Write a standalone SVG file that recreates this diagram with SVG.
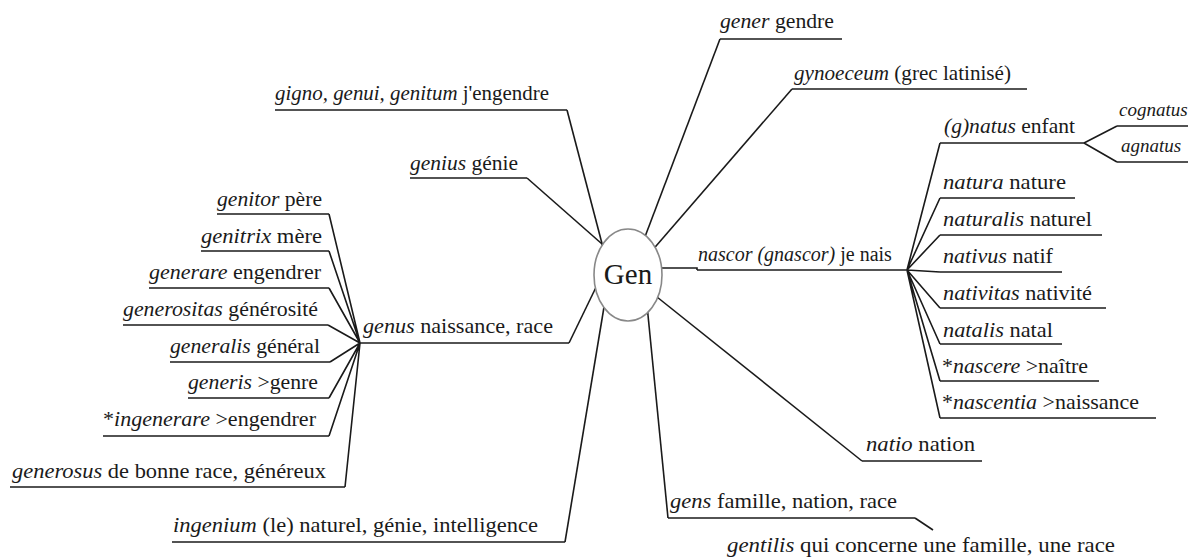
<svg xmlns="http://www.w3.org/2000/svg" width="1188" height="559" viewBox="0 0 1188 559" font-family="'Liberation Serif', 'DejaVu Serif', serif">
<style>
text{font-family:'Liberation Serif','DejaVu Serif',serif}
.t{font-size:22px;fill:#1a1a1a}
.i{font-style:italic}
.s{font-size:19px}
.g{font-size:29px}
.ln{stroke:#1a1a1a;stroke-width:1.6;fill:none}
.ul{stroke:#1a1a1a;stroke-width:1.6;fill:none}
</style>
<rect width="1188" height="559" fill="#ffffff"/>
<g id="connectors" class="ln">
<path d="M567 110 L605 255"/>
<path d="M527 178 L610 251"/>
<path d="M569 343 L600 279"/>
<path d="M565 542 L606 295"/>
<path d="M329 214 L360 343 M329 251 L360 343 M329 288 L360 343 M328 325 L360 343 M330 362 L360 343 M329 398 L360 343 M329 436 L360 343 M345 487 L360 343"/>
<path d="M720 39 L643 242"/>
<path d="M792 89 L650 253"/>
<path d="M655 268 H697 V270"/>
<path d="M907 270 L940 143 M907 270 L940 198 M907 270 L940 235 M907 270 L940 272 M907 270 L940 308 M907 270 L940 344 M907 270 L940 381 M907 270 L940 418"/>
<path d="M1084 143 L1117 126 M1084 143 L1117 162"/>
<path d="M862 461 L652 293"/>
<path d="M668 518 L647 305"/>
<path d="M915 518 L933 530"/>
</g>
<g id="n-gen">
<ellipse cx="628" cy="275" rx="34" ry="46" fill="#ffffff" stroke="#888888" stroke-width="1.6"/>
<text class="t g" x="628" y="284" text-anchor="middle">Gen</text>
</g>
<g id="n-gigno"><text class="t" x="275" y="100" textLength="274" lengthAdjust="spacingAndGlyphs"><tspan class="i">gigno, genui, genitum</tspan> j'engendre</text><path class="ul" d="M275 110 H567"/></g>
<g id="n-genius"><text class="t" x="410" y="170" textLength="108" lengthAdjust="spacingAndGlyphs"><tspan class="i">genius</tspan> génie</text><path class="ul" d="M410 178 H527"/></g>
<g id="n-genus"><text class="t" x="363" y="333" textLength="190" lengthAdjust="spacingAndGlyphs"><tspan class="i">genus</tspan> naissance, race</text><path class="ul" d="M360 343 H569"/></g>
<g id="n-genitor"><text class="t" x="217" y="206" textLength="105" lengthAdjust="spacingAndGlyphs"><tspan class="i">genitor</tspan> père</text><path class="ul" d="M217 214 H329"/></g>
<g id="n-genitrix"><text class="t" x="201" y="243" textLength="121" lengthAdjust="spacingAndGlyphs"><tspan class="i">genitrix</tspan> mère</text><path class="ul" d="M201 251 H329"/></g>
<g id="n-generare"><text class="t" x="149" y="279" textLength="172" lengthAdjust="spacingAndGlyphs"><tspan class="i">generare</tspan> engendrer</text><path class="ul" d="M149 288 H329"/></g>
<g id="n-generositas"><text class="t" x="123" y="316" textLength="195" lengthAdjust="spacingAndGlyphs"><tspan class="i">generositas</tspan> générosité</text><path class="ul" d="M123 325 H328"/></g>
<g id="n-generalis"><text class="t" x="170" y="353" textLength="150" lengthAdjust="spacingAndGlyphs"><tspan class="i">generalis</tspan> général</text><path class="ul" d="M170 362 H330"/></g>
<g id="n-generis"><text class="t" x="188" y="389" textLength="130" lengthAdjust="spacingAndGlyphs"><tspan class="i">generis</tspan> &gt;genre</text><path class="ul" d="M188 398 H329"/></g>
<g id="n-ingenerare"><text class="t" x="103" y="426" textLength="213" lengthAdjust="spacingAndGlyphs">*<tspan class="i">ingenerare</tspan> &gt;engendrer</text><path class="ul" d="M103 436 H329"/></g>
<g id="n-generosus"><text class="t" x="12" y="478" textLength="314" lengthAdjust="spacingAndGlyphs"><tspan class="i">generosus</tspan> de bonne race, généreux</text><path class="ul" d="M10 487 H345"/></g>
<g id="n-ingenium"><text class="t" x="173" y="532" textLength="365" lengthAdjust="spacingAndGlyphs"><tspan class="i">ingenium</tspan> (le) naturel, génie, intelligence</text><path class="ul" d="M172 542 H565"/></g>
<g id="n-gener"><text class="t" x="720" y="28" textLength="114" lengthAdjust="spacingAndGlyphs"><tspan class="i">gener</tspan> gendre</text><path class="ul" d="M720 39 H842"/></g>
<g id="n-gynoeceum"><text class="t" x="794" y="80" textLength="217" lengthAdjust="spacingAndGlyphs"><tspan class="i">gynoeceum</tspan> (grec latinisé)</text><path class="ul" d="M792 89 H1027"/></g>
<g id="n-nascor"><text class="t" x="698" y="261" style="font-size:20px"><tspan class="i">nascor (gnascor)</tspan> je nais</text><path class="ul" d="M697 270 H907"/></g>
<g id="n-gnatus"><text class="t" x="944" y="133" textLength="131" lengthAdjust="spacingAndGlyphs"><tspan class="i">(g)natus</tspan> enfant</text><path class="ul" d="M940 143 H1084"/></g>
<g id="n-cognatus"><text class="t i s" x="1119" y="116">cognatus</text><path class="ul" d="M1117 126 H1188"/></g>
<g id="n-agnatus"><text class="t i s" x="1121" y="152">agnatus</text><path class="ul" d="M1117 162 H1188"/></g>
<g id="n-natura"><text class="t" x="943" y="189" textLength="123" lengthAdjust="spacingAndGlyphs"><tspan class="i">natura</tspan> nature</text><path class="ul" d="M940 198 H1075"/></g>
<g id="n-naturalis"><text class="t" x="943" y="226" textLength="149" lengthAdjust="spacingAndGlyphs"><tspan class="i">naturalis</tspan> naturel</text><path class="ul" d="M940 235 H1102"/></g>
<g id="n-nativus"><text class="t" x="943" y="263" textLength="110" lengthAdjust="spacingAndGlyphs"><tspan class="i">nativus</tspan> natif</text><path class="ul" d="M940 272 H1062"/></g>
<g id="n-nativitas"><text class="t" x="943" y="300" textLength="149" lengthAdjust="spacingAndGlyphs"><tspan class="i">nativitas</tspan> nativité</text><path class="ul" d="M940 308 H1106"/></g>
<g id="n-natalis"><text class="t" x="943" y="337" textLength="110" lengthAdjust="spacingAndGlyphs"><tspan class="i">natalis</tspan> natal</text><path class="ul" d="M940 344 H1062"/></g>
<g id="n-nascere"><text class="t" x="942" y="373" textLength="146" lengthAdjust="spacingAndGlyphs">*<tspan class="i">nascere</tspan> &gt;naître</text><path class="ul" d="M940 381 H1099"/></g>
<g id="n-nascentia"><text class="t" x="942" y="409" textLength="197" lengthAdjust="spacingAndGlyphs">*<tspan class="i">nascentia</tspan> &gt;naissance</text><path class="ul" d="M940 418 H1156"/></g>
<g id="n-natio"><text class="t" x="866" y="451" textLength="109" lengthAdjust="spacingAndGlyphs"><tspan class="i">natio</tspan> nation</text><path class="ul" d="M862 461 H982"/></g>
<g id="n-gens"><text class="t" x="670" y="508" textLength="227" lengthAdjust="spacingAndGlyphs"><tspan class="i">gens</tspan> famille, nation, race</text><path class="ul" d="M668 518 H915"/></g>
<g id="n-gentilis"><text class="t" x="727" y="552" textLength="388" lengthAdjust="spacingAndGlyphs"><tspan class="i">gentilis</tspan> qui concerne une famille, une race</text></g>
</svg>
